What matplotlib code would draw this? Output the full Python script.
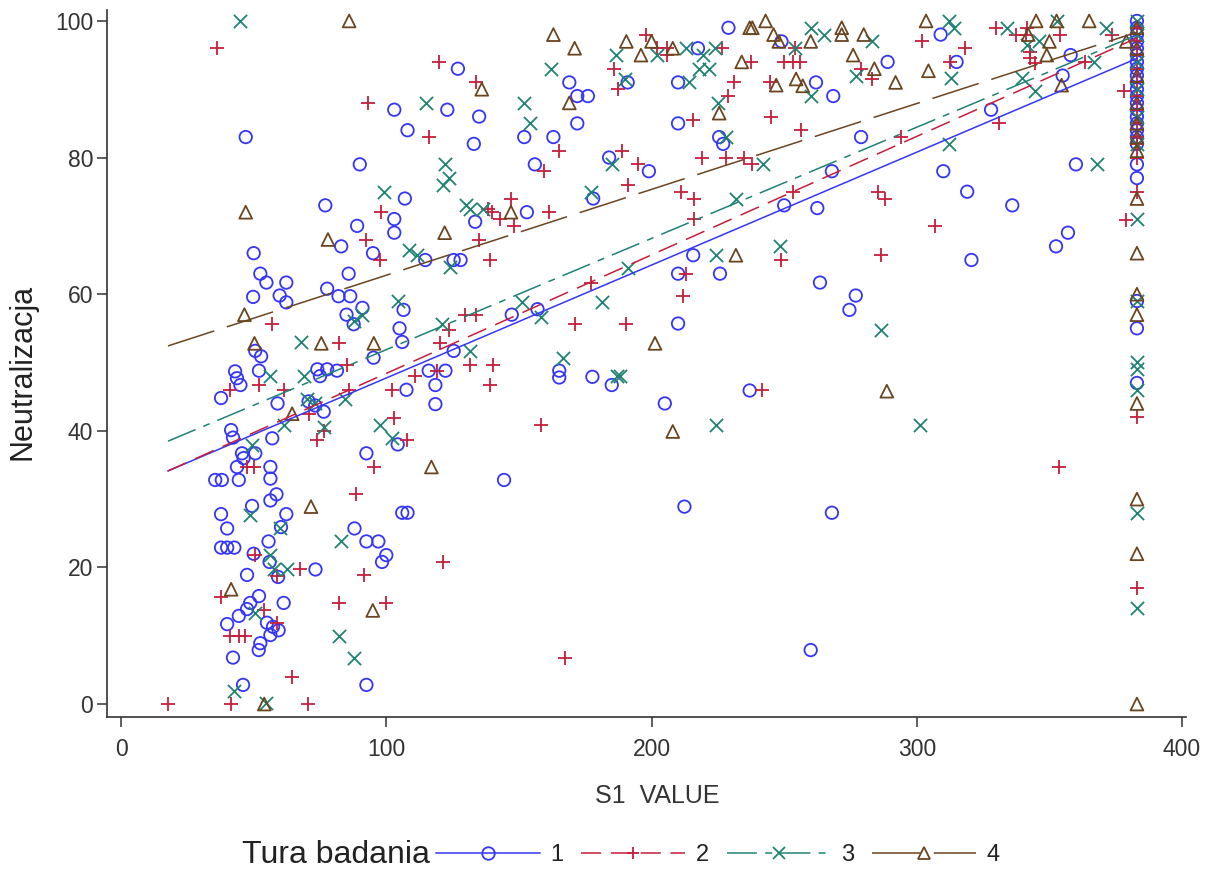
import matplotlib
matplotlib.use("Agg")
import matplotlib.pyplot as plt
from matplotlib.lines import Line2D
import numpy as np

# ---------------- data ----------------
g1 = [(127,93),(103,87),(123,87),(108,84),(47,83),(90,79),(107,74),(77,73),(103,71),(89,70),(103,69),(83,67),(50,66),(95,66),
      (135,86),(169,91),(172,89),(176,89),(172,85),(133,82),(152,83),(163,83),(156,79),(184,80),(199,78),(178,74),(153,72),(133.5,70.6),
      (225.5,83),(227,82),(210,85),(210,91),(191,91),(217.5,96),(229,99),(249,97),(262,91),(250,73),(262.5,72.6),
      (289,94),(268.5,89),(309,98),(315,94),(358,95),(355,92),(328,87),(279,83),(268,78),(310,78),(360,79),(319,75),(336,73),(357,69),(352.5,67),
      (114.7,65),(125.4,65),(128,65),(52.5,63),(54.8,61.7),(62.3,61.7),(49.8,59.6),(59.8,59.8),(62.3,58.8),(85.8,63),(77.7,60.8),(82,59.7),(86.4,59.7),
      (106.5,57.7),(85,57),(91,58),(87.7,55.6),(105,55),(106,53),(125.4,51.7),(95.2,50.7),(74,49),(77.7,49),(81.4,48.8),(75,48),(43,48.7),(43.7,47.7),
      (45,46.7),(52,48.8),(52.8,50.9),(50.6,51.7),(37.7,44.8),(59,44),(70.7,44.3),(73.2,43.7),(76.4,42.8),(107.6,46),(116,48.8),(122.3,48.8),(118.5,46.7),
      (118.5,43.9),(104.3,38),(92.5,36.7),(57,38.9),(41.5,40.1),(42.2,39),(45.6,36.7),(46.2,36),(50.6,36.7),(43.7,34.7),(56.3,34.7),(56.3,33),(35.5,32.8),
      (38,32.8),(44.4,32.8),(215.7,65.7),(263.5,61.7),(210,63),(225.8,63),(210,55.7),(147.3,57),(157,57.8),(165.2,48.8),(165.2,47.8),(177.7,47.9),(185,46.7),
      (205,44),(237,45.9),(144.4,32.8),(320.6,65),(277,59.8),(274.6,57.7),(268,28),
      (58.6,30.7),(56.3,29.8),(49.4,29),(37.7,27.8),(40,25.7),(62.3,27.8),(60.3,25.9),(106,28),(108,28),(88,25.7),(92.5,23.8),(97,23.8),(100,21.8),(98.4,20.8),
      (37.7,22.9),(40,22.9),(42.7,22.9),(55.6,23.8),(50,22),(56,20.8),(59.2,18.6),(73.3,19.7),(47.5,18.9),(52,15.8),(48.7,14.8),(47.5,13.9),(61.3,14.8),
      (44.4,12.9),(40,11.7),(55,11.9),(57.3,11.3),(59.4,10.8),(56.3,10.1),(52.5,8.9),(51.9,7.9),(42.2,6.8),(92.5,2.8),(46,2.8),(212.4,28.9),(260,7.9)]
g1_col = [100,99,98,97,96,95,94,93,92,91,90,89,88,87,86,85,84,83,82,79,77,59,55,47]

g2 = [(36,96),(120,94),(93,88),(116,83),(98,72),(92.5,68),
      (134,91),(165,81),(159.5,78),(189,81),(195,79),(191,76),(138.5,72.5),(140,72),(143,71),(147,74),(148,70),(161.5,72),(135,68),(211,75),(216,74),
      (216,71),(219,80),(228,80),(235,80),(238,79),(215.5,85.5),(245,86),(256.5,84),(229,89),(231,91),(186,93),(187.5,90),(198,98),(202,96),(206,96),
      (206,95),(226.5,96),(237.5,94),(250,94),(253.5,94),(256,94),(254,96),(244.5,91),(253.5,75),
      (279,93),(283,91.5),(302,97),(318,96),(312.5,94),(330,99),(337.5,98),(341,98),(341.5,99),(342.7,95.5),(342.7,94.5),(344.6,93.8),(354,98),(373.5,98),
      (363.4,94),(378,89.7),(331,85),(294,83),(285.5,75),(288,74),(307,70),(379,70.9),
      (97.5,65),(57,55.6),(82,52.8),(123.5,54.8),(120.4,52.8),(85.2,49.7),(52,46.7),(41.2,46),(61.3,46),(71,42.5),(86,46),(102,46),(111,48),(119,48.8),
      (103,41.8),(107.8,38.7),(76.4,39.9),(73.9,38.7),(95.2,34.7),(47.5,34.7),(50,34.7),
      (139,65),(213,63),(248.7,65),(211.7,59.8),(177,61.7),(171.2,55.7),(190.2,55.7),(129.7,56.9),(134,56.9),(131.6,49.6),(140.3,49.6),(139,46.7),
      (158.3,40.8),(241.5,45.9),(286.5,65.7),(353.7,34.7),
      (88.7,30.7),(121.4,20.8),(50.6,21.8),(58.8,18.7),(67.4,19.7),(91.7,18.9),(37.7,15.7),(53.8,13.8),(58.8,11.8),(41.2,10),(44.3,10),(46.8,10),
      (82,14.8),(100,14.8),(64.5,3.9),(17.7,0),(41.5,0),(70.4,0),(167.4,6.8)]
g2_col = [99,97,95,93,91,89,87,85,83,82,80,75,42,17]

g3 = [(45,100),(115,88),(122,79),(123.5,77),(121.5,76),(130,73),(99,75),(108.4,66.5),(111.6,65.7),
      (162,93),(152,88),(154,85),(185,79),(177,75),(131.5,72.5),(136.5,72.5),(232,74),(242,79),(228,83),(225,88),(214,91),(190,91.5),(186.5,95),
      (202,95),(213,96),(219.5,95),(218,93),(221.5,93),(224,96),(254,96),(260,99),(260,89),(248.5,67),
      (265,98),(283,97),(277,92),(312,100),(314,99),(313,91.6),(334,99),(346,97),(341.5,96.5),(352.7,100),(371.5,99),(367,94),(339.5,91.6),
      (344.6,89.7),(312,82),(368,79),
      (124,64),(104.3,59),(87.7,56),(90.8,57),(68,53),(121,55.7),(69,48),(56,48),(70,44.7),(73.2,44),(61.3,40.8),(84.5,44.7),(97.8,40.8),(102.2,38.9),
      (76.4,40.6),(49.4,37.9),
      (224.3,65.7),(191.3,63.8),(181.2,58.8),(151,58.8),(158.2,56.7),(131.6,51.7),(166.5,50.7),(187,48),(188,48),(224.3,40.8),
      (286.5,54.8),(301.2,40.8),
      (48.7,27.7),(60,25.8),(83,23.8),(56.3,21.8),(57.5,19.7),(62.6,19.7),(50.6,13.3),(82.3,10),(88,6.8),(42.7,1.9),(54.5,0.2)]
g3_col = [100,98,94,90,86,82,71,59,50,49,46,28,14]

g4 = [(86,100),(47,72),(122,69),(78,68),
      (163,98),(171,96),(136,90),(169,88),(147,72),(225.5,86.5),(190.5,97),(196,95),(200,97),(208,96),(237,99),(238,99),(243,100),(246,98),(248,97),
      (234,94),(260,97),(254.5,91.5),(257,90.5),(247,90.6),
      (271.7,99),(271.7,98),(280,98),(276,95),(284,93),(292,91),(303.5,100),(304.4,92.7),(345,100),(342,98),(349,95),(350,97),(352.7,100),(365,100),
      (379,97),(354.6,90.6),
      (46.5,57),(50.3,52.8),(75.5,52.8),(95.3,52.8),(64.5,42.5),(117,34.7),
      (231.8,65.7),(201.3,52.8),(208,39.9),(288.7,45.8),
      (71.6,28.9),(41.5,16.8),(94.9,13.7),(54,0)]
g4_col = [99,96,92,88,85,83,81,74,66,60,57,44,30,22,0]

col_x = 383  # S1 VALUE of the capped column

groups = ["1", "2", "3", "4"]
fit_intercept = [31.2, 31.05, 35.6, 50.2]
fit_slope = [0.1653, 0.1735, 0.1628, 0.1257]
fit_xrange = [17.7, 383]

x_ticks = [0, 100, 200, 300, 400]
y_ticks = [0, 20, 40, 60, 80, 100]

# ---------------- styling ----------------
colors = ['#3535f8', '#c41e3a', '#1f8272', '#6b4520']
markers = ['o', '+', 'x', '^']
msizes = [80, 105, 90, 85]
dashes = ['-', (0, (14.5, 7)), (0, (21.5, 6, 5, 6)), (0, (35, 9.5))]

plt.rcParams['lines.scale_dashes'] = False
FONT = ['Liberation Sans Narrow', 'Liberation Sans', 'DejaVu Sans']

fig = plt.figure(figsize=(12.11, 8.72), dpi=100)
ax = fig.add_axes([107/1211, 1-717/872, 1079/1211, 707/872])

data = [(g1, g1_col), (g2, g2_col), (g3, g3_col), (g4, g4_col)]
for i, (pts, colv) in enumerate(data):
    xs = [p[0] for p in pts] + [col_x]*len(colv)
    ys = [p[1] for p in pts] + list(colv)
    if markers[i] in ('o', '^'):
        ax.scatter(xs, ys, s=msizes[i], marker=markers[i], facecolors='none',
                   edgecolors=colors[i], linewidths=1.3, zorder=2)
    else:
        ax.scatter(xs, ys, s=msizes[i], marker=markers[i], c=colors[i],
                   linewidths=1.3, zorder=2)

xx = np.array(fit_xrange)
for i in range(4):
    ax.plot(xx, fit_intercept[i] + fit_slope[i]*xx, color=colors[i],
            linestyle=dashes[i], linewidth=1.1, zorder=3)

ax.set_xlim(-5.3, 401.5)
ax.set_ylim(-1.9, 101.6)
ax.set_xticks(x_ticks)
ax.set_yticks(y_ticks)
for s in ['top', 'right']:
    ax.spines[s].set_visible(False)
for s in ['left', 'bottom']:
    ax.spines[s].set_color('#333333')
    ax.spines[s].set_linewidth(1.2)
ax.tick_params(axis='both', direction='out', length=7, width=1.1, color='#333333',
               labelcolor='#333333', labelsize=16.5)
ax.tick_params(axis='x', pad=8)
ax.tick_params(axis='y', pad=3)
for lab in ax.get_xticklabels() + ax.get_yticklabels():
    lab.set_family(FONT)

ax.set_xlabel('S1  VALUE', fontsize=18, color='#333333', family=FONT)
ax.xaxis.set_label_coords(0.5097, -0.095)
ax.set_ylabel('Neutralizacja', fontsize=22, color='#222222', family=FONT)
ax.yaxis.set_label_coords(-0.064, 0.488)

# legend
fig.text(242/1211, 1-855/872, 'Tura badania', fontsize=23, color='#222222',
         family=FONT, ha='left', va='center')
handles = []
for i in range(4):
    handles.append(Line2D([], [], color=colors[i], linestyle=dashes[i], linewidth=1.1,
                          marker=markers[i], markersize=9,
                          markerfacecolor='none', markeredgecolor=colors[i],
                          markeredgewidth=1.3))
leg = fig.legend(handles, groups, loc='center left',
                 bbox_to_anchor=(436/1211, 1-855/872), ncol=4, frameon=False,
                 fontsize=17, handlelength=4.4, handletextpad=0.45,
                 columnspacing=0.75, borderaxespad=0, borderpad=0)
for t in leg.get_texts():
    t.set_family(FONT)
    t.set_color('#222222')

fig.savefig('out.png', dpi=100)
